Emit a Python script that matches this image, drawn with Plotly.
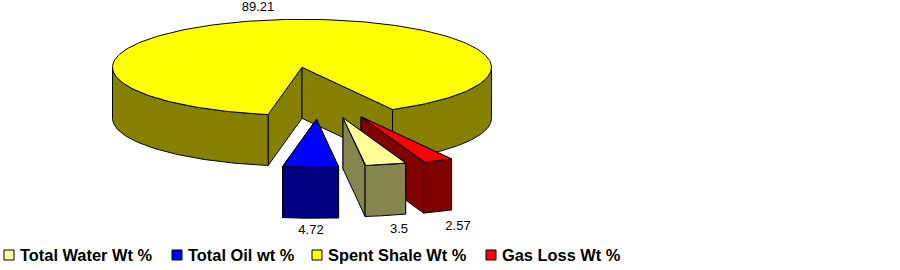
import numpy as np
import plotly.graph_objects as go

# ---- data ----
categories = ["Total Water Wt %", "Total Oil wt %", "Spent Shale Wt %", "Gas Loss Wt %"]
values = [3.5, 4.72, 89.21, 2.57]

# ---- styles and pie geometry ----
top_colors = {"Total Water Wt %": "#FFFF99", "Total Oil wt %": "#0000FF",
              "Spent Shale Wt %": "#FFFF00", "Gas Loss Wt %": "#FF0000"}
side_colors = {"Total Water Wt %": "#85854F", "Total Oil wt %": "#000080",
               "Spent Shale Wt %": "#858000", "Gas Loss Wt %": "#800000"}
explode = {"Total Water Wt %": (41, 50.5), "Total Oil wt %": (14.5, 52),
           "Spent Shale Wt %": (0, 0), "Gas Loss Wt %": (59, 49.5)}
label_pos = {"Total Water Wt %": (399, 229.5), "Total Oil wt %": (311, 230.5),
             "Spent Shale Wt %": (258, 7.5), "Gas Loss Wt %": (458, 226.5)}
sweep_order = ["Total Oil wt %", "Total Water Wt %", "Gas Loss Wt %", "Spent Shale Wt %"]
paint_order = ["Spent Shale Wt %", "Gas Loss Wt %", "Total Water Wt %", "Total Oil wt %"]
legend_swatch_x = {"Total Water Wt %": 9, "Total Oil wt %": 177,
                   "Spent Shale Wt %": 317, "Gas Loss Wt %": 491}
CX, CY, RX, RY, DEPTH = 302.0, 67.3, 189.5, 48.0, 51.0
START_DEG = -10.3
LEGEND_Y = 255
LEGEND_TEXT_DX = 11
LEGEND_TEXT_DY = 1.5

total = sum(values)
val = dict(zip(categories, values))
spans, a0 = {}, START_DEG
for c in sweep_order:
    a1 = a0 + val[c] / total * 360.0
    spans[c] = (a0, a1)
    a0 = a1


def rim(c, deg):
    ox, oy = explode[c]
    r = np.radians(deg)
    return CX + ox + RX * np.sin(r), CY + oy + RY * np.cos(r)


def apex(c):
    ox, oy = explode[c]
    return CX + ox, CY + oy


fig = go.Figure()


def poly(xs, ys, fill):
    fig.add_trace(go.Scatter(x=list(xs) + [xs[0]], y=list(ys) + [ys[0]], mode="lines",
                             fill="toself", fillcolor=fill,
                             line=dict(color="black", width=1),
                             hoverinfo="skip", showlegend=False))


def radial_face(c, deg):
    ax, ay = apex(c)
    px, py = rim(c, deg)
    poly([ax, px, px, ax], [ay, py, py + DEPTH, ay + DEPTH], side_colors[c])


def outer_wall(c, d0, d1):
    a = np.linspace(d0, d1, 80)
    x, y = rim(c, a)
    poly(list(x) + list(x[::-1]), list(y) + list((y + DEPTH)[::-1]), side_colors[c])


for c in paint_order:
    d0, d1 = spans[c]
    radial_face(c, d1)
    radial_face(c, d0)
    for lo, hi in [(-90, 90), (270, 450)]:
        s, e = max(d0, lo), min(d1, hi)
        if e > s:
            outer_wall(c, s, e)
    a = np.linspace(d0, d1, 240)
    x, y = rim(c, a)
    ax, ay = apex(c)
    poly([ax] + list(x), [ay] + list(y), top_colors[c])

# value labels
fig.add_trace(go.Scatter(x=[label_pos[c][0] for c in categories],
                         y=[label_pos[c][1] for c in categories],
                         mode="text", text=[str(v) for v in values],
                         textposition="middle center",
                         textfont=dict(family="Liberation Sans", size=13, color="black"),
                         hoverinfo="skip", showlegend=False, cliponaxis=False))

# legend row
fig.add_trace(go.Scatter(x=[legend_swatch_x[c] for c in categories], y=[LEGEND_Y] * len(categories),
                         mode="markers",
                         marker=dict(symbol="square", size=10,
                                     color=[top_colors[c] for c in categories],
                                     line=dict(color="black", width=1)),
                         hoverinfo="skip", showlegend=False))
fig.add_trace(go.Scatter(x=[legend_swatch_x[c] + LEGEND_TEXT_DX for c in categories],
                         y=[LEGEND_Y + LEGEND_TEXT_DY] * len(categories),
                         mode="text", text=categories, textposition="middle right",
                         textfont=dict(family="Liberation Sans", size=16.4, color="black", weight="bold"),
                         hoverinfo="skip", showlegend=False))

fig.update_xaxes(range=[0, 900], visible=False, fixedrange=True)
fig.update_yaxes(range=[270, 0], visible=False, fixedrange=True)
fig.update_layout(width=900, height=270, margin=dict(l=0, r=0, t=0, b=0),
                  paper_bgcolor="white", plot_bgcolor="white", showlegend=False)
fig.write_html("out.html", config={"displayModeBar": False},
               post_script="document.body.style.margin='0';document.body.style.overflow='hidden';")
